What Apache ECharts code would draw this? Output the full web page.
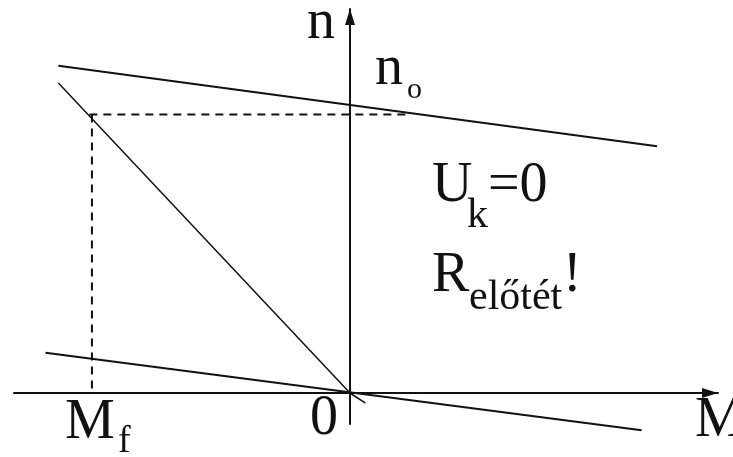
<!DOCTYPE html>
<html>
<head>
<meta charset="utf-8">
<script src="https://cdn.jsdelivr.net/npm/echarts@6/dist/echarts.min.js"></script>
<style>
  html, body { margin: 0; padding: 0; background: #fff; }
  #chart { width: 733px; height: 457px; }
</style>
</head>
<body>
<div id="chart"></div>
<script>
// values (M: torque, n: speed, arbitrary units)
const Mf = -100
const nWork = 97
const upperLine = [[-113, 114], [119, 86]]          // n0 characteristic
const brakeLine = [[-113, 108], [0, 0], [6, -3.5]]  // with series resistor
const lowerLine = [[-118, 14], [113, -13]]
const workLevel = [[-101, nWork], [22, nWork]]
const workDrop = [[Mf, nWork], [Mf, 0]]

const chart = echarts.init(document.getElementById('chart'))

const ink = '#111'
const serif = '"Liberation Serif", "DejaVu Serif", serif'

// place text by its baseline (canvas 'middle' sits ~0.3375em above baseline)
const label = (text, x, base, size) => ({
  type: 'text',
  style: {
    text: text,
    x: x,
    y: base - 0.3375 * size,
    font: size + 'px ' + serif,
    fill: ink,
    align: 'left',
    verticalAlign: 'middle'
  }
})

const lineSeries = (data, width, dashed) => ({
  type: 'line',
  data: data,
  symbol: 'none',
  silent: true,
  clip: false,
  lineStyle: {
    color: ink,
    width: width,
    type: dashed ? [8, 6] : 'solid'
  }
})

const axisCommon = {
  type: 'value',
  axisLine: {
    show: true,
    onZero: true,
    symbol: ['none', 'triangle'],
    symbolSize: [10, 16],
    symbolOffset: [0, -8],
    lineStyle: { color: ink, width: 2 }
  },
  axisTick: { show: false },
  axisLabel: { show: false },
  splitLine: { show: false }
}

const option = {
  animation: false,
  grid: { left: 14, right: 15, top: 9, bottom: 33 },
  xAxis: Object.assign({}, axisCommon, { min: -130.2, max: 142.6 }),
  yAxis: Object.assign({}, axisCommon, { min: -10.8, max: 133.8 }),
  series: [
    lineSeries(upperLine, 2, false),
    lineSeries(brakeLine, 1.5, false),
    lineSeries(lowerLine, 2, false),
    lineSeries(workLevel, 2, true),
    lineSeries(workDrop, 2, true)
  ],
  graphic: [
    label('n', 307, 42, 56),
    label('n', 375, 88, 56),
    label('o', 407, 100, 30),
    label('U', 432, 205, 56),
    label('k', 467, 230, 42),
    label('=0', 488, 205, 56),
    label('R', 432, 295, 56),
    label('előtét', 469, 312, 42),
    label('!', 563, 295, 56),
    label('M', 65, 442, 56),
    label('f', 118, 455, 38),
    label('0', 310, 438, 56),
    label('M', 695, 440, 56)
  ]
}

chart.setOption(option)
</script>
</body>
</html>
